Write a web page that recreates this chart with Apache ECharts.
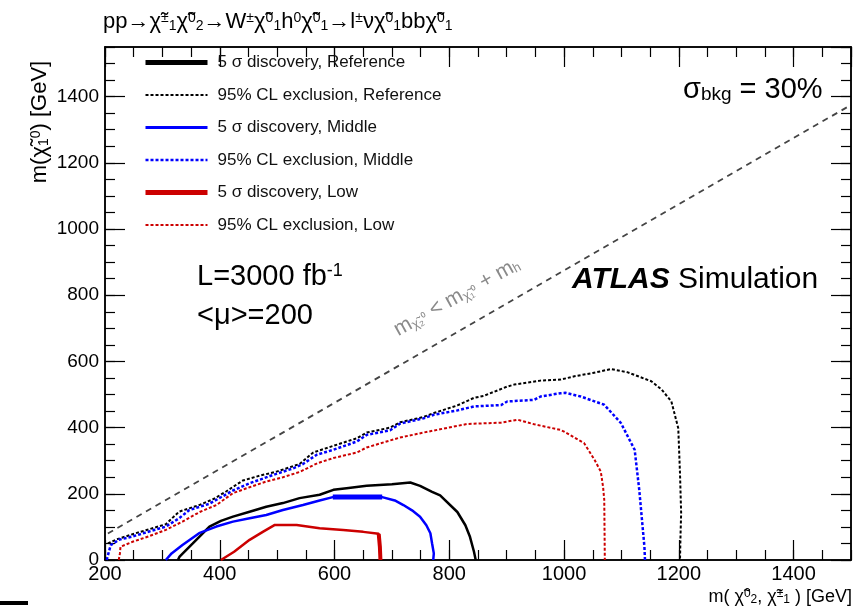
<!DOCTYPE html>
<html>
<head>
<meta charset="utf-8">
<script src="https://cdn.jsdelivr.net/npm/echarts@6/dist/echarts.min.js"></script>
<style>
  html, body { margin: 0; padding: 0; background: #fff; }
  #chartmain { width: 866px; height: 614px; }
</style>
</head>
<body>
<div id="chartmain"></div>
<script>
// contour points: [m(chi2/chi1pm), m(chi1)] in GeV
var sigma5Ref = [
  [327, 0], [330, 10], [353, 50], [382, 101], [402, 118], [423, 131], [452, 146],
  [481, 161], [510, 172], [539, 187], [574, 197], [598, 212], [621, 217], [656, 224],
  [700, 229], [732, 234], [749, 224], [770, 206], [784, 195], [814, 145], [828, 105],
  [836, 70], [843, 25], [846, 0]
]
var exclRef = [
  [205, 50], [220, 62], [248, 78], [277, 93], [306, 108], [329, 146], [364, 166],
  [390, 185], [411, 207], [440, 240], [470, 255], [499, 267], [539, 290], [563, 325],
  [598, 345], [639, 368], [656, 385], [697, 400], [714, 416], [755, 432], [773, 444],
  [814, 467], [843, 490], [860, 496], [901, 524], [913, 530], [959, 542], [994, 545],
  [1018, 555], [1050, 565], [1082, 577], [1111, 567], [1152, 540], [1170, 515],
  [1187, 479], [1199, 398], [1202, 262], [1204, 141], [1203, 80], [1202, 0]
]
var sigma5Mid = [
  [306, 0], [316, 20], [335, 45], [364, 81], [394, 101], [423, 116], [452, 126],
  [481, 136], [510, 151], [545, 166], [574, 180], [597, 190], [640, 190], [683, 190],
  [705, 180], [720, 166], [735, 150], [749, 131], [760, 105], [767, 81], [770, 50],
  [773, 20], [772, 0]
]
// the flat, heavier-drawn part of the middle discovery contour
var sigma5MidFlat = [[597, 190], [640, 190], [683, 190]]
var exclMid = [
  [203, 0], [206, 20], [210, 45], [224, 61], [248, 71], [277, 86], [306, 101],
  [329, 126], [347, 151], [382, 170], [423, 210], [452, 232], [493, 257], [528, 277],
  [545, 290], [569, 318], [598, 333], [639, 358], [656, 378], [697, 392], [714, 412],
  [755, 428], [773, 439], [814, 452], [843, 464], [890, 468], [901, 479], [948, 484],
  [959, 494], [994, 504], [1003, 505], [1029, 494], [1070, 469], [1099, 414],
  [1123, 333], [1131, 212], [1140, 40], [1141, 0]
]
var sigma5Low = [
  [402, 0], [425, 25], [452, 61], [475, 85], [496, 106], [534, 106], [574, 96],
  [615, 91], [650, 85], [677, 79], [679, 40], [680, 0]
]
// the vertical, heavier-drawn edge of the low discovery contour
var sigma5LowEdge = [[677, 79], [679, 40], [680, 0]]
var exclLow = [
  [224, 0], [226, 20], [227, 40], [248, 55], [277, 72], [306, 91], [335, 116],
  [365, 145], [394, 166], [423, 202], [452, 220], [481, 237], [510, 250], [539, 266],
  [571, 293], [598, 308], [639, 325], [656, 340], [714, 370], [755, 385], [784, 395],
  [831, 411], [890, 415], [919, 424], [948, 410], [994, 393], [1000, 388], [1035, 353],
  [1053, 303], [1064, 267], [1068, 220], [1070, 182], [1071, 0]
]
// kinematic limit m(chi1) = m(chi2) - m(h)
var kinLimit = [[205, 80], [1500, 1375]]

var xTicks = [200, 400, 600, 800, 1000, 1200, 1400]
var yTicks = [0, 200, 400, 600, 800, 1000, 1200, 1400]

var names = [
  '5 σ discovery, Reference',
  '95% CL exclusion, Reference',
  '5 σ discovery, Middle',
  '95% CL exclusion, Middle',
  '5 σ discovery, Low',
  '95% CL exclusion, Low'
]

var font = 'Liberation Sans, Arial, sans-serif'

function xAxisDef(pos, step, len, labels) {
  return {
    type: 'value', position: pos, min: 200, max: 1500, interval: step,
    axisLine: { show: true, onZero: false, lineStyle: { color: '#000', width: 1.5 } },
    axisTick: { show: true, inside: true, length: len, lineStyle: { color: '#000', width: 1.2 } },
    axisLabel: {
      show: labels, showMaxLabel: false, margin: 4, fontSize: 20, color: '#000', fontFamily: font,
      formatter: function (v) { return xTicks.indexOf(v) >= 0 ? String(v) : '' }
    },
    splitLine: { show: false }
  }
}
function yAxisDef(pos, step, len, labels) {
  return {
    type: 'value', position: pos, min: 0, max: 1550, interval: step,
    axisLine: { show: true, onZero: false, lineStyle: { color: '#000', width: 1.5 } },
    axisTick: { show: true, inside: true, length: len, lineStyle: { color: '#000', width: 1.2 } },
    axisLabel: {
      show: labels, showMaxLabel: false, margin: 6, fontSize: 19, color: '#000', fontFamily: font,
      formatter: function (v) { return yTicks.indexOf(v) >= 0 ? String(v) : '' }
    },
    splitLine: { show: false }
  }
}

function line(name, data, color, width, type) {
  return {
    name: name, type: 'line', data: data, symbol: 'none', showSymbol: false,
    xAxisIndex: 0, yAxisIndex: 0, animation: false,
    lineStyle: { color: color, width: width, type: type },
    itemStyle: { color: color }
  }
}

var option = {
  backgroundColor: '#fff',
  animation: false,
  grid: { left: 105, right: 15, top: 47, bottom: 54 },
  xAxis: [
    xAxisDef('bottom', 200, 20, true),
    xAxisDef('bottom', 50, 10, false),
    xAxisDef('top', 200, 20, false),
    xAxisDef('top', 50, 10, false)
  ],
  yAxis: [
    yAxisDef('left', 200, 20, true),
    yAxisDef('left', 50, 10, false),
    yAxisDef('right', 200, 20, false),
    yAxisDef('right', 50, 10, false)
  ],
  legend: {
    orient: 'vertical', left: 143, top: 54, padding: 0,
    itemWidth: 62, itemHeight: 12, itemGap: 15.5,
    itemStyle: { opacity: 0 },
    textStyle: { fontSize: 17, color: '#111', fontFamily: font, padding: [0, 0, 0, 5] },
    data: [
      { name: names[0], lineStyle: { width: 5 } },
      { name: names[1], lineStyle: { width: 2 } },
      { name: names[2], lineStyle: { width: 3 } },
      { name: names[3], lineStyle: { width: 2.5 } },
      { name: names[4], lineStyle: { width: 5 } },
      { name: names[5], lineStyle: { width: 2 } }
    ]
  },
  series: [
    {
      type: 'line', data: kinLimit, symbol: 'none', silent: true,
      lineStyle: { color: '#444', width: 1.8, type: [6, 5] }
    },
    line(names[0], sigma5Ref, '#000', 2.5, 'solid'),
    line(names[1], exclRef, '#000', 2, [3, 2]),
    line(names[2], sigma5Mid, '#0000ff', 2.5, 'solid'),
    line('', sigma5MidFlat, '#0000ff', 5, 'solid'),
    line(names[3], exclMid, '#0000ff', 2.5, [3, 2]),
    line(names[4], sigma5Low, '#cc0000', 2.5, 'solid'),
    line('', sigma5LowEdge, '#cc0000', 4, 'solid'),
    line(names[5], exclLow, '#cc0000', 2, [3, 2])
  ],
  graphic: [
    {
      type: 'text', x: 103, y: 22,
      style: {
        text: 'pp→χ\u0303{a|±}{b|1}χ\u0303{a|0}{b|2}→W{a|±}χ\u0303{a|0}{b|1}h{a|0}χ\u0303{a|0}{b|1}→l{a|±}νχ\u0303{a|0}{b|1}bbχ\u0303{a|0}{b|1}',
        font: '22px ' + font, fill: '#000', verticalAlign: 'middle',
        rich: {
          a: { fontSize: 14, verticalAlign: 'top', fontFamily: font },
          b: { fontSize: 14, verticalAlign: 'bottom', fontFamily: font }
        }
      }
    },
    {
      type: 'text', x: 40, y: 122, rotation: Math.PI / 2,
      style: {
        text: 'm(χ\u0303{b|1}{a|0}) [GeV]', font: '22px ' + font, fill: '#000',
        align: 'center', verticalAlign: 'middle',
        rich: { a: { fontSize: 14, verticalAlign: 'top' }, b: { fontSize: 14, verticalAlign: 'bottom' } }
      }
    },
    {
      type: 'text', x: 852, y: 597,
      style: {
        text: 'm( χ\u0303{a|0}{b|2}, χ\u0303{a|±}{b|1} ) [GeV]', font: '18px ' + font, fill: '#000',
        align: 'right', verticalAlign: 'middle',
        rich: { a: { fontSize: 12, verticalAlign: 'top' }, b: { fontSize: 12, verticalAlign: 'bottom' } }
      }
    },
    {
      type: 'text', x: 683, y: 90,
      style: {
        text: 'σ{b|bkg} = 30%', font: '29px ' + font, fill: '#000', verticalAlign: 'middle',
        rich: { b: { fontSize: 19, verticalAlign: 'bottom' } }
      }
    },
    {
      type: 'text', x: 197, y: 277,
      style: {
        text: 'L=3000 fb{a|-1}', font: '29px ' + font, fill: '#000', verticalAlign: 'middle',
        rich: { a: { fontSize: 18, verticalAlign: 'top' } }
      }
    },
    {
      type: 'text', x: 197, y: 316,
      style: { text: '<μ>=200', font: '29px ' + font, fill: '#000', verticalAlign: 'middle' }
    },
    {
      type: 'text', x: 572, y: 280,
      style: {
        text: '{i|ATLAS} Simulation', font: '30px ' + font, fill: '#000', verticalAlign: 'middle',
        rich: { i: { fontSize: 30, fontWeight: 'bold', fontStyle: 'italic', fontFamily: font } }
      }
    },
    {
      type: 'text', x: 457, y: 297, rotation: 29 * Math.PI / 180,
      style: {
        text: 'm{b|χ\u0303₂⁰} < m{b|χ\u0303₁⁰} + m{b|h}', font: '21px ' + font, fill: '#8a8a8a',
        align: 'center', verticalAlign: 'middle',
        rich: { b: { fontSize: 13, verticalAlign: 'bottom' } }
      }
    },
    {
      type: 'rect', shape: { x: 0, y: 601, width: 28, height: 4 }, style: { fill: '#000' }
    }
  ]
}

var myChart = echarts.init(document.getElementById('chartmain'))
myChart.setOption(option)
</script>
</body>
</html>
